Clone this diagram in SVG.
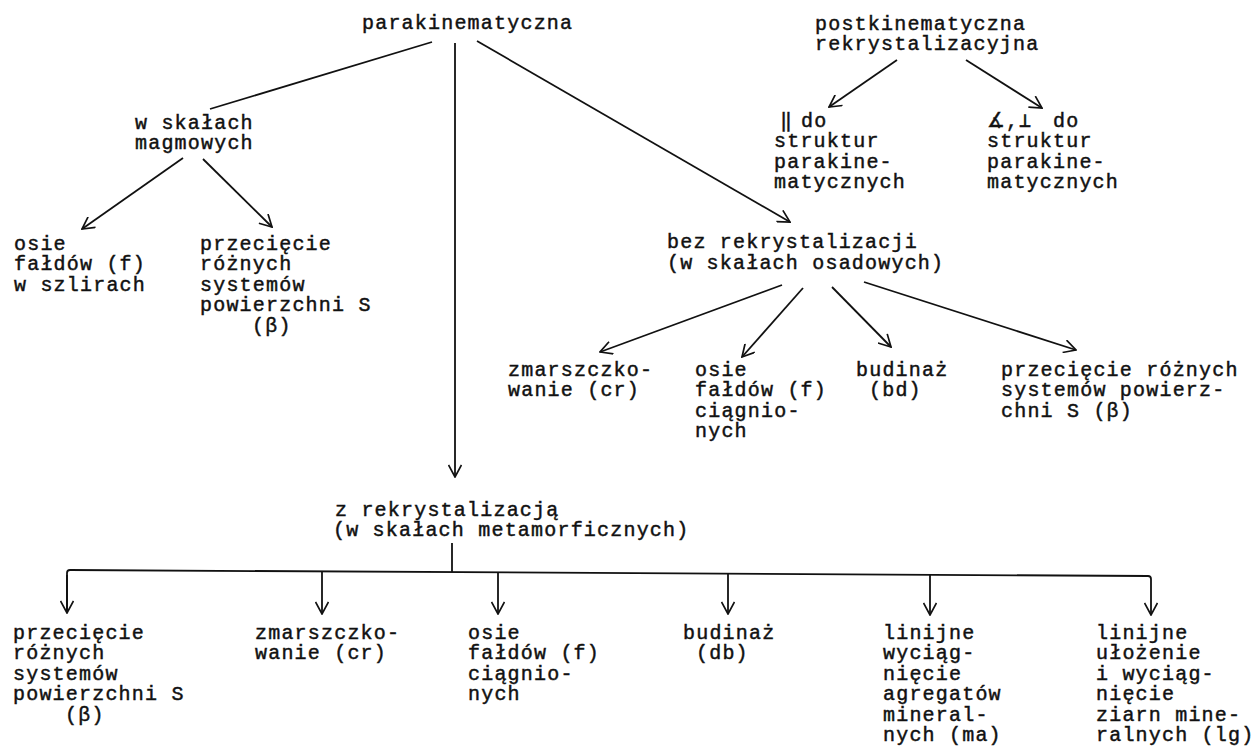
<svg xmlns="http://www.w3.org/2000/svg" width="1254" height="754" viewBox="0 0 1254 754">
<defs>
<style>
text{font-family:"Liberation Mono","DejaVu Sans Mono",monospace;font-size:20px;letter-spacing:1.2px;fill:#111;stroke:#111;stroke-width:0.45px;}
.c line,.c path{stroke:#111;stroke-width:1.8;fill:none;}
</style>
<marker id="ah" markerUnits="userSpaceOnUse" viewBox="0 0 14 14" refX="13" refY="7" markerWidth="14" markerHeight="14" orient="auto">
<path d="M1,0.5 L13,7 L1,13.5" fill="none" stroke="#111" stroke-width="1.7"/>
</marker>
</defs>
<rect width="1254" height="754" fill="#fff"/>
<g class="c" id="connectors">
<line x1="432" y1="42" x2="210" y2="109"/>
<line x1="455" y1="43" x2="455" y2="477" marker-end="url(#ah)"/>
<line x1="477" y1="41" x2="790" y2="222" marker-end="url(#ah)"/>
<line x1="183" y1="158" x2="82" y2="229" marker-end="url(#ah)"/>
<line x1="203" y1="159" x2="272" y2="227" marker-end="url(#ah)"/>
<line x1="897" y1="60" x2="829" y2="107" marker-end="url(#ah)"/>
<line x1="966" y1="60" x2="1042" y2="108" marker-end="url(#ah)"/>
<line x1="782" y1="285" x2="600" y2="352" marker-end="url(#ah)"/>
<line x1="803" y1="288" x2="742" y2="357" marker-end="url(#ah)"/>
<line x1="832" y1="287" x2="891" y2="347" marker-end="url(#ah)"/>
<line x1="864" y1="282" x2="1076" y2="350" marker-end="url(#ah)"/>
<line x1="452" y1="543" x2="452" y2="572"/>
<path d="M67,613 L67,573 Q67,570 70,570 L1148,576 Q1151,576 1151,579 L1151,615" marker-end="url(#ah)"/>
<path d="M67,575 L67,613" marker-end="url(#ah)"/>
<line x1="322" y1="571.4" x2="322" y2="614" marker-end="url(#ah)"/>
<line x1="498" y1="572.4" x2="498" y2="614" marker-end="url(#ah)"/>
<line x1="728" y1="573.7" x2="728" y2="614" marker-end="url(#ah)"/>
<line x1="930" y1="574.8" x2="930" y2="615" marker-end="url(#ah)"/>
</g>
<g id="n_para"><text x="362" y="29">parakinematyczna</text></g>
<g id="n_post"><text x="815" y="30">postkinematyczna</text><text x="815" y="50">rekrystalizacyjna</text></g>
<g id="n_magm"><text x="135" y="129">w skałach</text><text x="135" y="149">magmowych</text></g>
<g id="n_par"><text y="127"><tspan x="780">‖</tspan><tspan x="801">do</tspan></text><text x="774" y="147">struktur</text><text x="774" y="168">parakine-</text><text x="774" y="188">matycznych</text></g>
<g id="n_ang"><text y="127"><tspan x="987">∡</tspan><tspan x="1006">,</tspan><tspan x="1019">⊥</tspan><tspan x="1053">do</tspan></text><text x="987" y="147">struktur</text><text x="987" y="168">parakine-</text><text x="987" y="188">matycznych</text></g>
<g id="n_osie1"><text x="14" y="250">osie</text><text x="14" y="270">fałdów (f)</text><text x="14" y="291">w szlirach</text></g>
<g id="n_przec1"><text x="200" y="250">przecięcie</text><text x="200" y="270">różnych</text><text x="200" y="291">systemów</text><text x="200" y="311">powierzchni S</text><text x="252" y="332">(β)</text></g>
<g id="n_bez"><text x="667" y="248">bez rekrystalizacji</text><text x="667" y="269">(w skałach osadowych)</text></g>
<g id="n_zmar1"><text x="508" y="376">zmarszczko-</text><text x="508" y="396">wanie (cr)</text></g>
<g id="n_osie2"><text x="695" y="376">osie</text><text x="695" y="396">fałdów (f)</text><text x="695" y="417">ciągnio-</text><text x="695" y="437">nych</text></g>
<g id="n_bud1"><text x="856" y="376">budinaż</text><text x="869" y="396">(bd)</text></g>
<g id="n_przec2"><text x="1001" y="376">przecięcie różnych</text><text x="1001" y="396">systemów powierz-</text><text x="1001" y="417">chni S  (β)</text></g>
<g id="n_zrek"><text x="335" y="516">z rekrystalizacją</text><text x="333" y="536">(w skałach metamorficznych)</text></g>
<g id="n_b1"><text x="13" y="639">przecięcie</text><text x="13" y="659">różnych</text><text x="13" y="680">systemów</text><text x="13" y="700">powierzchni S</text><text x="65" y="721">(β)</text></g>
<g id="n_b2"><text x="255" y="639">zmarszczko-</text><text x="255" y="659">wanie (cr)</text></g>
<g id="n_b3"><text x="468" y="639">osie</text><text x="468" y="659">fałdów (f)</text><text x="468" y="680">ciągnio-</text><text x="468" y="700">nych</text></g>
<g id="n_b4"><text x="683" y="639">budinaż</text><text x="696" y="659">(db)</text></g>
<g id="n_b5"><text x="883" y="639">linijne</text><text x="883" y="659">wyciąg-</text><text x="883" y="680">nięcie</text><text x="883" y="700">agregatów</text><text x="883" y="721">mineral-</text><text x="883" y="741">nych (ma)</text></g>
<g id="n_b6"><text x="1096" y="639">linijne</text><text x="1096" y="659">ułożenie</text><text x="1096" y="680">i wyciąg-</text><text x="1096" y="700">nięcie</text><text x="1096" y="721">ziarn mine-</text><text x="1096" y="741">ralnych (lg)</text></g>
</svg>
